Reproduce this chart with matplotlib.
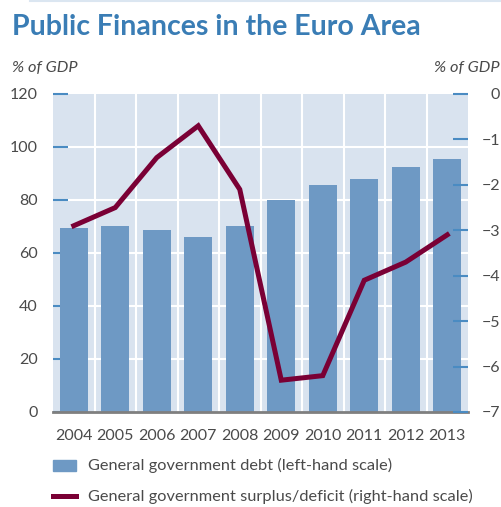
import numpy as np
import matplotlib
matplotlib.use('Agg')
import matplotlib.pyplot as plt
from matplotlib.patches import Rectangle
from matplotlib.lines import Line2D

plt.rcParams['font.family'] = ['Lato', 'DejaVu Sans']

years = ['2004', '2005', '2006', '2007', '2008', '2009', '2010', '2011', '2012', '2013']
debt = [69.6, 70.3, 68.5, 66.2, 70.0, 80.0, 85.7, 87.9, 92.4, 95.5]
balance = [-2.9, -2.5, -1.4, -0.7, -2.1, -6.3, -6.2, -4.1, -3.7, -3.1]

left_ticks = [0, 20, 40, 60, 80, 100, 120]
right_ticks = [0, -1, -2, -3, -4, -5, -6, -7]
right_labels = ['0', '\u22121', '\u22122', '\u22123', '\u22124', '\u22125', '\u22126', '\u22127']

bar_col = '#6e99c4'
bg_col = '#d9e3ef'
line_col = '#7a0035'
tick_col = '#4a8bc2'
text_col = '#4a4a4a'
title_col = '#3a7db5'
fs = 11.8
tfs = 11.5

fig = plt.figure(figsize=(5.02, 5.07), dpi=100)
ax = fig.add_axes([0.1056, 0.1874, 0.8267, 0.6272])
ax.set_facecolor(bg_col)

x = np.arange(len(years))
ax.bar(x, debt, width=0.67, color=bar_col, zorder=3)

ax.set_xlim(-0.5, len(years) - 0.5)
ax.set_ylim(0, 120)
ax.set_yticks(left_ticks)
ax.set_xticks(x)
ax.set_xticklabels(years)

# white grid: horizontal on the debt scale, vertical between the years
for v in left_ticks[1:-1]:
    ax.axhline(v, color='white', lw=1.5, zorder=1)
for b in np.arange(0.5, len(years) - 0.5, 1):
    ax.axvline(b, color='white', lw=1.5, zorder=1)

for s in ['top', 'left', 'right']:
    ax.spines[s].set_visible(False)
ax.spines['bottom'].set_color('#7f7f7f')
ax.spines['bottom'].set_linewidth(2)
ax.spines['bottom'].set_zorder(4)

ax.tick_params(axis='y', direction='in', length=11, width=1.5, color=tick_col,
               labelsize=tfs, labelcolor=text_col, pad=11)
ax.tick_params(axis='x', length=0, labelsize=tfs, labelcolor=text_col, pad=12)

ax2 = ax.twinx()
ax2.plot(x, balance, color=line_col, lw=3.6, solid_joinstyle='miter', zorder=5)
ax2.set_ylim(-7, 0)
ax2.set_yticks(right_ticks)
ax2.set_yticklabels(right_labels)
for s in ax2.spines.values():
    s.set_visible(False)
ax2.tick_params(axis='y', direction='in', length=11, width=1.5, color=tick_col,
                labelsize=tfs, labelcolor=text_col, pad=23)
for lab in ax2.get_yticklabels():
    lab.set_horizontalalignment('right')

fig.text(12 / 502, 1 - 35 / 507, 'Public Finances in the Euro Area', fontsize=20.5,
         fontweight='bold', color=title_col, va='baseline')
fig.text(12 / 502, 1 - 68 / 507, '% of GDP', fontsize=fs, style='italic',
         color=text_col, va='center')
fig.text(500 / 502, 1 - 68 / 507, '% of GDP', fontsize=fs, style='italic',
         color=text_col, va='center', ha='right')
fig.add_artist(Line2D([0.06, 1.0], [0.999, 0.999], color='#dbe6f1', lw=1.5))

# legend below the chart
fig.add_artist(Rectangle((53 / 502, 1 - 471 / 507), 23 / 502, 11 / 507,
                         color=bar_col, transform=fig.transFigure))
fig.text(88 / 502, 1 - 465 / 507, 'General government debt (left-hand scale)',
         fontsize=fs, color=text_col, va='center')
fig.add_artist(Line2D([53 / 502, 76 / 502], [1 - 496 / 507, 1 - 496 / 507],
                      color=line_col, lw=3.6))
fig.text(88 / 502, 1 - 496 / 507, 'General government surplus/deficit (right-hand scale)',
         fontsize=fs, color=text_col, va='center')

fig.savefig('out.png', dpi=100)
